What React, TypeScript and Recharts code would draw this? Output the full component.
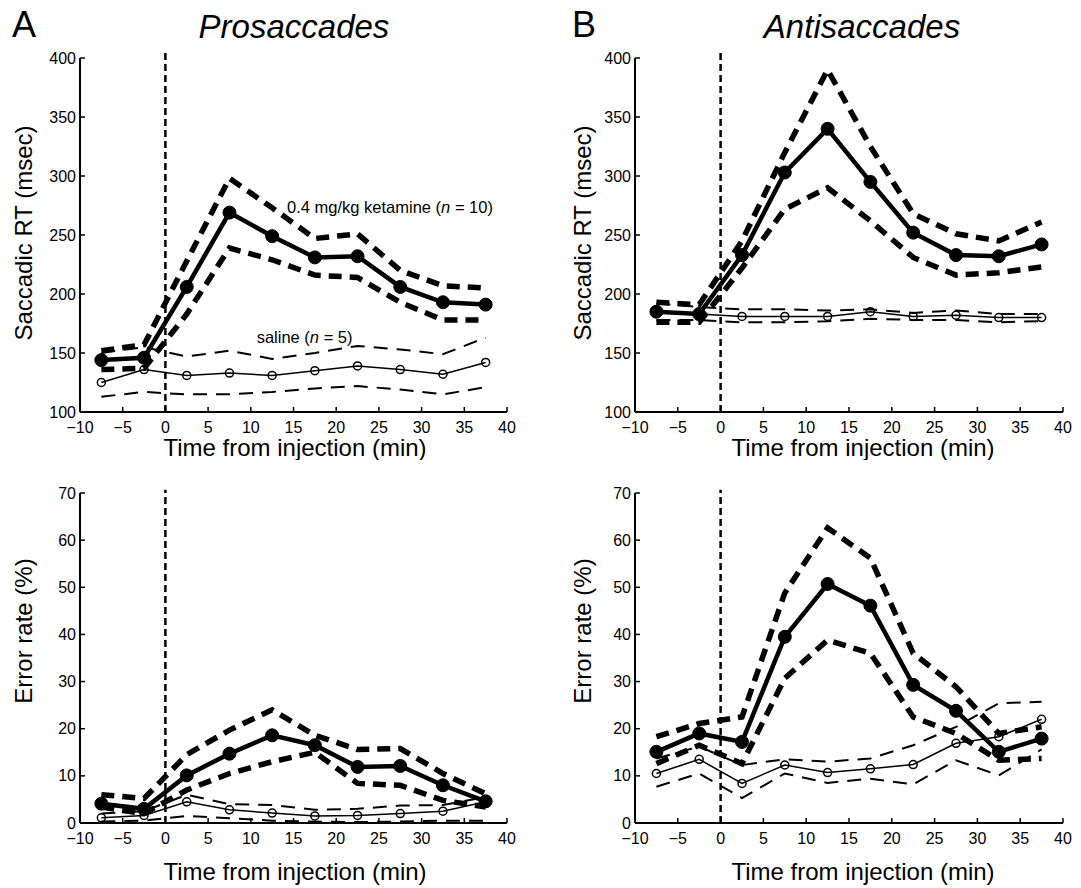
import React from "react";
import { LineChart, Line, XAxis, YAxis, ReferenceLine, ReferenceDot } from "recharts";

const FONT = '"Liberation Sans", Arial, Helvetica, sans-serif';

// time bins (min from injection)
const times = [-7.5, -2.5, 2.5, 7.5, 12.5, 17.5, 22.5, 27.5, 32.5, 37.5];
const xTicks = [-10, -5, 0, 5, 10, 15, 20, 25, 30, 35, 40];
const rtTicks = [100, 150, 200, 250, 300, 350, 400];
const errTicks = [0, 10, 20, 30, 40, 50, 60, 70];

// A, prosaccades, saccadic RT (msec)
const proRtKet = [144, 146, 206, 269, 249, 231, 232, 206, 193, 191];
const proRtKetHi = [152, 157, 228, 298, 273, 247, 251, 220, 207, 205];
const proRtKetLo = [136, 137, 183, 239, 229, 216, 214, 193, 178, 178];
const proRtSal = [125, 136, 131, 133, 131, 135, 139, 136, 132, 142];
const proRtSalHi = [150, 155, 147, 152, 145, 150, 156, 153, 149, 163];
const proRtSalLo = [113, 117, 115, 115, 117, 120, 122, 119, 115, 121];

// B, antisaccades, saccadic RT (msec)
const antiRtKet = [185, 183, 233, 303, 340, 295, 252, 233, 232, 242];
const antiRtKetHi = [193, 191, 245, 320, 390, 325, 268, 251, 245, 261];
const antiRtKetLo = [176, 176, 222, 272, 290, 262, 231, 216, 218, 223];
const antiRtSal = [184, 183, 181, 181, 181, 185, 181, 182, 180, 180];
const antiRtSalHi = [192, 189, 187, 187, 186, 187, 184, 186, 183, 183];
const antiRtSalLo = [178, 178, 176, 176, 177, 179, 178, 178, 176, 177];

// A, prosaccades, error rate (%)
const proErrKet = [4.1, 3.0, 10.1, 14.7, 18.6, 16.5, 11.9, 12.1, 8.0, 4.6];
const proErrKetHi = [6.0, 5.2, 14.5, 19.7, 24.0, 18.6, 15.6, 15.8, 10.5, 6.2];
const proErrKetLo = [3.4, 2.0, 7.0, 10.5, 13.0, 15.0, 8.4, 8.0, 4.8, 3.4];
const proErrSal = [1.1, 1.6, 4.5, 2.8, 2.1, 1.5, 1.6, 2.0, 2.5, 4.5];
const proErrSalHi = [2.0, 2.5, 6.0, 4.0, 3.8, 2.8, 3.0, 3.7, 3.8, 5.5];
const proErrSalLo = [0.3, 0.5, 1.5, 1.0, 0.5, 0.3, 0.2, 0.3, 0.5, 0.5];

// B, antisaccades, error rate (%)
const antiErrKet = [15.1, 19.0, 17.2, 39.5, 50.7, 46.1, 29.3, 23.8, 15.1, 17.9];
const antiErrKetHi = [18.3, 21.1, 22.5, 48.8, 62.6, 56.2, 36.0, 28.9, 19.0, 20.4];
const antiErrKetLo = [12.6, 16.5, 12.6, 30.7, 38.8, 36.0, 22.5, 19.0, 13.3, 13.7];
const antiErrSal = [10.5, 13.5, 8.4, 12.3, 10.7, 11.5, 12.4, 16.9, 18.3, 22.0];
const antiErrSalHi = [13.7, 16.2, 12.3, 13.5, 13.0, 13.7, 16.5, 20.4, 25.4, 25.7];
const antiErrSalLo = [7.7, 10.5, 5.3, 10.5, 8.5, 9.4, 8.2, 13.3, 10.1, 15.6];

const build = (km: number[], kh: number[], kl: number[], sm: number[], sh: number[], sl: number[]) =>
  times.map((t, i) => ({ t, km: km[i], kh: kh[i], kl: kl[i], sm: sm[i], sh: sh[i], sl: sl[i] }));

const fmt = (v: number) => (v < 0 ? "\u2212" + Math.abs(v) : String(v));

function XTick(props: any) {
  const { x, y, payload } = props;
  return (
    <g>
      <line x1={x} y1={y} x2={x} y2={y - 5} stroke="#000" strokeWidth={1.5} />
      <text x={x} y={y + 15} dy="0.35em" textAnchor="middle" fontSize={16} fontFamily={FONT} fill="#000">
        {fmt(payload.value)}
      </text>
    </g>
  );
}

function YTick(props: any) {
  const { x, y, payload } = props;
  return (
    <g>
      <line x1={x} y1={y} x2={x + 5} y2={y} stroke="#000" strokeWidth={1.5} />
      <text x={x - 4} y={y} dy="0.35em" textAnchor="end" fontSize={16} fontFamily={FONT} fill="#000">
        {payload.value}
      </text>
    </g>
  );
}

function Panel(p: any) {
  const rows = p.rows;
  return (
    <div style={{ position: "absolute", left: p.left, top: p.top }}>
      <LineChart width={p.width} height={p.height} data={rows} margin={p.margin}>
        <XAxis
          dataKey="t"
          type="number"
          domain={[-10, 40]}
          ticks={xTicks}
          interval={0}
          height={1}
          tickSize={0}
          tickMargin={0}
          tickLine={false}
          tick={<XTick />}
          axisLine={{ stroke: "#000", strokeWidth: 2 }}
          label={{
            content: (lp: any) => {
              const vb = lp.viewBox;
              return (
                <text x={vb.x + vb.width / 2 + p.xTitleDx} y={vb.y + p.xTitleBase} textAnchor="middle" fontSize={24} fontFamily={FONT} fill="#000">
                  Time from injection (min)
                </text>
              );
            },
          }}
        />
        <YAxis
          type="number"
          domain={p.yDomain}
          ticks={p.yTicks}
          interval={0}
          width={1}
          tickSize={0}
          tickMargin={0}
          tickLine={false}
          tick={<YTick />}
          axisLine={{ stroke: "#000", strokeWidth: 2 }}
          label={{
            content: (lp: any) => {
              const vb = lp.viewBox;
              const cx = vb.x + vb.width - p.yTitleOff;
              const cy = vb.y + vb.height / 2 + p.yTitleDy;
              return (
                <text x={cx} y={cy} dy="0.35em" textAnchor="middle" fontSize={24} fontFamily={FONT} fill="#000" transform={`rotate(-90 ${cx} ${cy})`}>
                  {p.yTitle}
                </text>
              );
            },
          }}
        />
        <ReferenceLine
          segment={[{ x: 0, y: p.yDomain[0] }, { x: 0, y: p.zeroTop }]}
          stroke="#000"
          strokeWidth={2.5}
          strokeDasharray="7 4"
          ifOverflow="visible"
        />
        <Line dataKey="sh" stroke="#000" strokeWidth={2} strokeDasharray="14 9" dot={false} isAnimationActive={false} />
        <Line dataKey="sl" stroke="#000" strokeWidth={2} strokeDasharray="14 9" dot={false} isAnimationActive={false} />
        <Line
          dataKey="sm"
          stroke="#000"
          strokeWidth={1.5}
          dot={{ r: 4, fill: "none", stroke: "#000", strokeWidth: 1.5 }}
          isAnimationActive={false}
        />
        <Line dataKey="kh" stroke="#000" strokeWidth={5.5} strokeDasharray="13 8" dot={false} isAnimationActive={false} />
        <Line dataKey="kl" stroke="#000" strokeWidth={5.5} strokeDasharray="13 8" dot={false} isAnimationActive={false} />
        <Line
          dataKey="km"
          stroke="#000"
          strokeWidth={4.5}
          dot={{ r: 6.5, fill: "#000", stroke: "#000", strokeWidth: 1 }}
          isAnimationActive={false}
        />
        {(p.notes || []).map((n: any, i: number) => (
          <ReferenceDot
            key={i}
            x={n.x}
            y={n.y}
            r={1}
            fill="none"
            stroke="none"
            ifOverflow="visible"
            label={{
              content: (lp: any) => {
                const vb = lp.viewBox;
                return (
                  <text x={vb.x + vb.width / 2} y={vb.y + vb.height / 2} dy="0.35em" textAnchor="middle" fontSize={16.5} fontFamily={FONT} fill="#000">
                    {n.pre}
                    <tspan fontStyle="italic">n</tspan>
                    {n.post}
                  </text>
                );
              },
            }}
          />
        ))}
      </LineChart>
    </div>
  );
}

const proNotes = [
  { x: 26.3, y: 273.7, pre: "0.4 mg/kg ketamine (", post: " = 10)" },
  { x: 16.3, y: 163.6, pre: "saline (", post: " = 5)" },
];

export default function App() {
  const topMarginA = { top: 58, right: 33, bottom: 47, left: 79 };
  const topMarginB = { top: 58, right: 18, bottom: 47, left: 94 };
  const botMarginA = { top: 33, right: 33, bottom: 64, left: 79 };
  const botMarginB = { top: 33, right: 18, bottom: 64, left: 94 };
  return (
    <div style={{ position: "absolute", left: 0, top: 0, width: 1081, height: 888, background: "#fff", fontFamily: FONT }}>
      <Panel
        left={0} top={0} width={540} height={460} margin={topMarginA}
        rows={build(proRtKet, proRtKetHi, proRtKetLo, proRtSal, proRtSalHi, proRtSalLo)}
        yDomain={[100, 400]} yTicks={rtTicks} zeroTop={405}
        yTitle="Saccadic RT (msec)" yTitleOff={56} yTitleDy={-2}
        xTitleDx={1.5} xTitleBase={44}
        notes={proNotes}
      />
      <Panel
        left={540} top={0} width={541} height={460} margin={topMarginB}
        rows={build(antiRtKet, antiRtKetHi, antiRtKetLo, antiRtSal, antiRtSalHi, antiRtSalLo)}
        yDomain={[100, 400]} yTicks={rtTicks} zeroTop={405}
        yTitle="Saccadic RT (msec)" yTitleOff={52} yTitleDy={-2}
        xTitleDx={14} xTitleBase={44}
      />
      <Panel
        left={0} top={460} width={540} height={428} margin={botMarginA}
        rows={build(proErrKet, proErrKetHi, proErrKetLo, proErrSal, proErrSalHi, proErrSalLo)}
        yDomain={[0, 70]} yTicks={errTicks} zeroTop={70.7}
        yTitle="Error rate (%)" yTitleOff={56} yTitleDy={-27}
        xTitleDx={1.5} xTitleBase={57}
      />
      <Panel
        left={540} top={460} width={541} height={428} margin={botMarginB}
        rows={build(antiErrKet, antiErrKetHi, antiErrKetLo, antiErrSal, antiErrSalHi, antiErrSalLo)}
        yDomain={[0, 70]} yTicks={errTicks} zeroTop={70.7}
        yTitle="Error rate (%)" yTitleOff={52} yTitleDy={-27}
        xTitleDx={14} xTitleBase={57}
      />
      <svg width={1081} height={60} style={{ position: "absolute", left: 0, top: 0, pointerEvents: "none" }}>
        <text x={12} y={37} fontSize={36} fontFamily={FONT} fill="#000">A</text>
        <text x={572} y={37} fontSize={36} fontFamily={FONT} fill="#000">B</text>
        <text x={294} y={38} textAnchor="middle" fontSize={33} fontStyle="italic" fontFamily={FONT} fill="#000">Prosaccades</text>
        <text x={862} y={38} textAnchor="middle" fontSize={33} fontStyle="italic" fontFamily={FONT} fill="#000">Antisaccades</text>
      </svg>
    </div>
  );
}
